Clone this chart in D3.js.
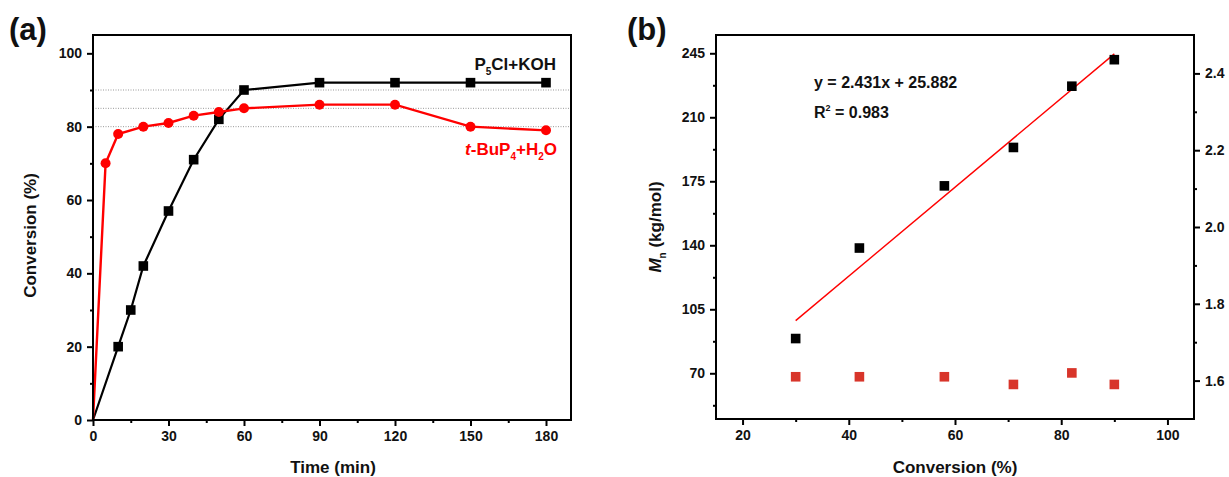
<!DOCTYPE html>
<html><head><meta charset="utf-8">
<script src="https://cdn.jsdelivr.net/npm/d3@7"></script>
<style>body{margin:0;background:#fff}text{font-family:"Liberation Sans",Arial,sans-serif;font-weight:bold}</style>
</head><body>
<svg id="c" width="1229" height="477"></svg>
<script>
// Panel (a) data
const timeMin = [0, 10, 15, 20, 30, 40, 50, 60, 90, 120, 150, 180];
const convP5Cl = [0, 20, 30, 42, 57, 71, 82, 90, 92, 92, 92, 92];
const timeRed = [0, 5, 10, 20, 30, 40, 50, 60, 90, 120, 150, 180];
const convBuP4 = [0, 70, 78, 80, 81, 83, 84, 85, 86, 86, 80, 79];
const refLines = [80, 85, 90];
const xTicksA = [0, 30, 60, 90, 120, 150, 180];
const yTicksA = [0, 20, 40, 60, 80, 100];
// Panel (b) data
const convB = [30, 42, 58, 71, 82, 90];
const mnB = [89, 138.5, 172.5, 193.5, 227, 241.5];
const pdiB = [1.61, 1.61, 1.61, 1.59, 1.62, 1.59];
const fitSlope = 2.431, fitIntercept = 25.882;
const xTicksB = [20, 40, 60, 80, 100];
const yTicksB = [70, 105, 140, 175, 210, 245];
const yTicksB2 = [1.6, 1.8, 2.0, 2.2, 2.4];

const svg = d3.select("#c");
const FS = 14;

function styleAxis(g){
  g.select(".domain").remove();
  g.selectAll(".tick line").attr("stroke","#000").attr("stroke-width",2);
  g.selectAll(".tick text").attr("font-size",FS).attr("font-weight","bold").attr("fill","#111")
   .attr("font-family","Liberation Sans, Arial, sans-serif");
}

// ===== Panel A =====
const A = {l:93, r:571, t:35, b:420};
const xa = d3.scaleLinear().domain([0, 180*(A.r-A.l)/(546-93)]).range([A.l, A.r]);
const ya = d3.scaleLinear().domain([0,105]).range([A.b, A.t]);

const ga = svg.append("g");
ga.selectAll("line.ref").data(refLines).join("line")
  .attr("x1",A.l).attr("x2",A.r).attr("y1",d=>ya(d)).attr("y2",d=>ya(d))
  .attr("stroke","#999").attr("stroke-width",1).attr("stroke-dasharray","1,1.5");

ga.append("g").attr("transform",`translate(0,${A.b})`)
  .call(d3.axisBottom(xa).tickValues(xTicksA).tickSize(6).tickPadding(5)).call(styleAxis);
ga.append("g").attr("transform",`translate(0,${A.b})`)
  .call(d3.axisBottom(xa).tickValues(d3.range(15,190,30)).tickSize(3).tickFormat("")).call(styleAxis);
ga.append("g").attr("transform",`translate(${A.l},0)`)
  .call(d3.axisLeft(ya).tickValues(yTicksA).tickSize(6).tickPadding(5)).call(styleAxis);
ga.append("g").attr("transform",`translate(${A.l},0)`)
  .call(d3.axisLeft(ya).tickValues(d3.range(10,101,20)).tickSize(3).tickFormat("")).call(styleAxis);

const lineA = d3.line().x(d=>xa(d[0])).y(d=>ya(d[1]));
const blk = timeMin.map((t,i)=>[t,convP5Cl[i]]);
const red = timeRed.map((t,i)=>[t,convBuP4[i]]);
ga.append("path").datum(blk).attr("d",lineA).attr("fill","none").attr("stroke","#000").attr("stroke-width",2.2);
ga.append("path").datum(red).attr("d",lineA).attr("fill","none").attr("stroke","#ff0000").attr("stroke-width",2.4);
ga.selectAll("rect.bm").data(blk.slice(1)).join("rect")
  .attr("x",d=>xa(d[0])-4.8).attr("y",d=>ya(d[1])-4.8).attr("width",9.6).attr("height",9.6).attr("fill","#000");
ga.selectAll("circle.rm").data(red.slice(1)).join("circle")
  .attr("cx",d=>xa(d[0])).attr("cy",d=>ya(d[1])).attr("r",5).attr("fill","#ff0000");

ga.append("rect").attr("x",A.l).attr("y",A.t).attr("width",A.r-A.l).attr("height",A.b-A.t)
  .attr("fill","none").attr("stroke","#000").attr("stroke-width",2);

const t1 = ga.append("text").attr("x",556).attr("y",70).attr("text-anchor","end").attr("font-size",17).attr("fill","#111");
t1.append("tspan").text("P");
t1.append("tspan").text("5").attr("font-size",10).attr("dy",5);
t1.append("tspan").text("Cl+KOH").attr("dy",-5);
const t2 = ga.append("text").attr("x",557).attr("y",155).attr("text-anchor","end").attr("font-size",17).attr("fill","#ff0000");
t2.append("tspan").text("t").attr("font-style","italic");
t2.append("tspan").text("-BuP");
t2.append("tspan").text("4").attr("font-size",10).attr("dy",5);
t2.append("tspan").text("+H").attr("dy",-5);
t2.append("tspan").text("2").attr("font-size",10).attr("dy",5);
t2.append("tspan").text("O").attr("dy",-5);

ga.append("text").attr("x",333).attr("y",473).attr("text-anchor","middle").attr("font-size",17).attr("fill","#111").text("Time (min)");
ga.append("text").attr("transform",`translate(36,${(A.t+A.b)/2+8}) rotate(-90)`).attr("text-anchor","middle").attr("font-size",17).attr("fill","#111").text("Conversion (%)");
ga.append("text").attr("x",9).attr("y",40).attr("font-size",31).attr("fill","#111").text("(a)");

// ===== Panel B =====
const B = {l:716, r:1194, t:35, b:419};
const xb = d3.scaleLinear().domain([15,105]).range([B.l,B.r]);
const yb = d3.scaleLinear().domain([45,255]).range([B.b,B.t]);
const yb2 = d3.scaleLinear().domain([1.5,2.5]).range([B.b,B.t]);
const gb = svg.append("g");

gb.append("g").attr("transform",`translate(0,${B.b})`)
  .call(d3.axisBottom(xb).tickValues(xTicksB).tickSize(6).tickPadding(5)).call(styleAxis);
gb.append("g").attr("transform",`translate(0,${B.b})`)
  .call(d3.axisBottom(xb).tickValues([30,50,70,90]).tickSize(3).tickFormat("")).call(styleAxis);
gb.append("g").attr("transform",`translate(${B.l},0)`)
  .call(d3.axisLeft(yb).tickValues(yTicksB).tickSize(6).tickPadding(5)).call(styleAxis);
gb.append("g").attr("transform",`translate(${B.l},0)`)
  .call(d3.axisLeft(yb).tickValues([52.5,87.5,122.5,157.5,192.5,227.5]).tickSize(3).tickFormat("")).call(styleAxis);
gb.append("g").attr("transform",`translate(${B.r},0)`)
  .call(d3.axisRight(yb2).tickValues(yTicksB2).tickSize(6).tickPadding(5).tickFormat(d3.format(".1f"))).call(styleAxis);
gb.append("g").attr("transform",`translate(${B.r},0)`)
  .call(d3.axisRight(yb2).tickValues([1.7,1.9,2.1,2.3]).tickSize(3).tickFormat("")).call(styleAxis);

const fx = [d3.min(convB), d3.max(convB)];
gb.append("line").attr("x1",xb(fx[0])).attr("y1",yb(fitSlope*fx[0]+fitIntercept))
  .attr("x2",xb(fx[1])).attr("y2",yb(fitSlope*fx[1]+fitIntercept))
  .attr("stroke","#ff0000").attr("stroke-width",1.4);

gb.selectAll("rect.mn").data(convB).join("rect")
  .attr("x",(d)=>xb(d)-4.8).attr("y",(d,i)=>yb(mnB[i])-4.8).attr("width",9.6).attr("height",9.6).attr("fill","#000");
gb.selectAll("rect.pdi").data(convB).join("rect")
  .attr("x",(d)=>xb(d)-4.8).attr("y",(d,i)=>yb2(pdiB[i])-4.8).attr("width",9.6).attr("height",9.6).attr("fill","#d8352a");

gb.append("rect").attr("x",B.l).attr("y",B.t).attr("width",B.r-B.l).attr("height",B.b-B.t)
  .attr("fill","none").attr("stroke","#000").attr("stroke-width",2);

gb.append("text").attr("x",814).attr("y",88).attr("font-size",16).attr("fill","#111").text("y = 2.431x + 25.882");
const r2 = gb.append("text").attr("x",814).attr("y",118).attr("font-size",16).attr("fill","#111");
r2.append("tspan").text("R");
r2.append("tspan").text("2").attr("font-size",9).attr("dy",-7);
r2.append("tspan").text(" = 0.983").attr("dy",7);

gb.append("text").attr("x",955).attr("y",473).attr("text-anchor","middle").attr("font-size",17).attr("fill","#111").text("Conversion (%)");
const yl = gb.append("text").attr("transform",`translate(661,${(B.t+B.b)/2}) rotate(-90)`).attr("text-anchor","middle").attr("font-size",17).attr("fill","#111");
yl.append("tspan").text("M").attr("font-style","italic");
yl.append("tspan").text("n").attr("font-size",10).attr("dy",5);
yl.append("tspan").text(" (kg/mol)").attr("dy",-5);
gb.append("text").attr("x",627).attr("y",40).attr("font-size",31).attr("fill","#111").text("(b)");
</script>
</body></html>
